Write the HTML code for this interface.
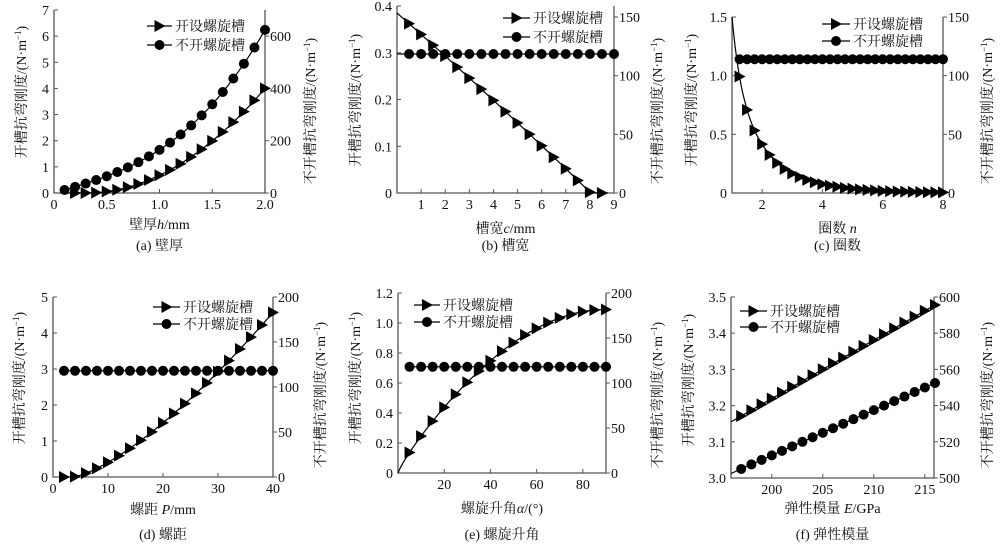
<!DOCTYPE html>
<html><head><meta charset="utf-8"><style>
html,body{margin:0;padding:0;background:#fff;width:1000px;height:547px;overflow:hidden}
svg{display:block}
text{font-family:"Liberation Serif","Noto Serif CJK SC","Noto Sans CJK SC",serif;fill:#111}
</style></head><body>
<svg id="s" width="1000" height="547" xmlns="http://www.w3.org/2000/svg"></svg>
<script>
const S=document.getElementById('s');let h='';
function rng(a,b,st){const r=[];for(let v=a;v<=b+1e-9;v+=st)r.push(+v.toFixed(6));return r;}
function panel(p){
 const X=v=>p.x0+(v-p.xa)/(p.xb-p.xa)*(p.x1-p.x0);
 const YL=v=>p.y1-(v-p.la)/(p.lb-p.la)*(p.y1-p.y0);
 const YR=v=>p.y1-(v-p.ra)/(p.rb-p.ra)*(p.y1-p.y0);
 h+=`<path d="M${p.x0} ${p.y0}V${p.y1}H${p.x1}V${p.y0}" fill="none" stroke="#555" stroke-width="1.3"/>`;
 p.lt.forEach(([v,l])=>{const y=YL(v);h+=`<line x1="${p.x0}" x2="${p.x0+4}" y1="${y}" y2="${y}" stroke="#555"/><text x="${p.x0-5}" y="${y+5}" font-size="14" text-anchor="end">${l}</text>`;});
 p.rt.forEach(([v,l])=>{const y=YR(v);h+=`<line x1="${p.x1}" x2="${p.x1+4}" y1="${y}" y2="${y}" stroke="#555"/><text x="${p.x1+5}" y="${y+5}" font-size="14">${l}</text>`;});
 p.xt.forEach(([v,l])=>{const x=X(v);h+=`<line x1="${x}" x2="${x}" y1="${p.y1}" y2="${p.y1-4}" stroke="#555"/><text x="${x}" y="${p.y1+16}" font-size="14" text-anchor="middle">${l}</text>`;});
 const tri=(x,y)=>`<path d="M${x-5} ${y-6}L${x+6} ${y}L${x-5} ${y+6}Z" fill="#000"/>`;
 const cir=(x,y)=>`<circle cx="${x}" cy="${y}" r="5" fill="#000"/>`;
 let d='';p.tl.forEach((v,i)=>{d+=(i?'L':'M')+X(v).toFixed(1)+' '+YL(p.tf(v)).toFixed(1);});
 h+=`<path d="${d}" fill="none" stroke="#000" stroke-width="1.2"/>`;
 d='';p.cl.forEach((v,i)=>{d+=(i?'L':'M')+X(v).toFixed(1)+' '+YR(p.cf(v)).toFixed(1);});
 h+=`<path d="${d}" fill="none" stroke="#000" stroke-width="1.2"/>`;
 p.cp.forEach(v=>h+=cir(X(v),YR(p.cf(v))));
 p.tp.forEach(v=>h+=tri(X(v),YL(p.tf(v))));
 const [lx1,lx2,ly1,ly2]=p.lg;const m=(lx1+lx2)/2;
 h+=`<line x1="${lx1}" x2="${lx2}" y1="${ly1}" y2="${ly1}" stroke="#000" stroke-width="1.2"/>`+tri(m,ly1)+`<text x="${lx2+3}" y="${ly1+5}" font-size="14">开设螺旋槽</text>`;
 h+=`<line x1="${lx1}" x2="${lx2}" y1="${ly2}" y2="${ly2}" stroke="#000" stroke-width="1.2"/>`+cir(m,ly2)+`<text x="${lx2+3}" y="${ly2+5}" font-size="14">不开螺旋槽</text>`;
 h+=`<text transform="translate(${p.llx},${p.lly}) rotate(-90)" font-size="14" text-anchor="middle">开槽抗弯刚度/(N·m<tspan font-size="9" dy="-5">−1</tspan><tspan dy="5">)</tspan></text>`;
 h+=`<text transform="translate(${p.rlx+10},${p.rly}) rotate(-90)" font-size="14" text-anchor="middle">不开槽抗弯刚度/(N·m<tspan font-size="9" dy="-5">−1</tspan><tspan dy="5">)</tspan></text>`;
 h+=`<text x="${(p.x0+p.x1)/2}" y="${p.xly}" font-size="14" text-anchor="middle">${p.xl}</text>`;
 h+=`<text x="${(p.x0+p.x1)/2}" y="${p.cy}" font-size="14" text-anchor="middle">${p.cap}</text>`;
}
const t=(a)=>a.map(v=>[v,String(v)]);
panel({x0:54,x1:265,y0:10,y1:193,xa:0,xb:2,la:0,lb:7,ra:0,rb:700,
 lt:t([0,1,2,3,4,5,6,7]),rt:t([0,200,400,600]),xt:[[0,'0'],[0.5,'0.5'],[1,'1.0'],[1.5,'1.5'],[2,'2.0']],
 tl:rng(0.1,2,0.05),tp:rng(0.2,2,0.1),tf:v=>1.384*Math.pow(Math.max(0,v-0.3),2),
 cl:rng(0.1,2,0.05),cp:rng(0.1,2,0.1),cf:v=>100*(0.49*v*v*v+1.16*v),
 lg:[147,172,26,45],llx:26,lly:92,rlx:305,rly:111,xl:'壁厚<tspan font-style="italic">h</tspan>/mm',xly:229,cap:'(a) 壁厚',cy:250});
panel({x0:397,x1:614,y0:6,y1:193,xa:0,xb:9,la:0,lb:0.4,ra:0,rb:159.4,
 lt:[[0,'0'],[0.1,'0.1'],[0.2,'0.2'],[0.3,'0.3'],[0.4,'0.4']],rt:t([0,50,100,150]),xt:t([1,2,3,4,5,6,7,8,9]),
 tl:rng(0,8.75,0.25),tp:rng(0.5,8.5,0.5),tf:v=>Math.max(0,0.385-0.0455*v-0.0003*v*v),
 cl:[0,9],cp:rng(0.5,9,0.5),cf:v=>118.5,
 lg:[503,530,18,37],llx:360,lly:100,rlx:652,rly:111,xl:'槽宽<tspan font-style="italic">c</tspan>/mm',xly:233,cap:'(b) 槽宽',cy:250});
panel({x0:732,x1:943,y0:17,y1:193,xa:1,xb:8,la:0,lb:1.5,ra:0,rb:150,
 lt:[[0,'0'],[0.5,'0.5'],[1,'1.0'],[1.5,'1.5']],rt:t([0,50,100,150]),xt:t([2,4,6,8]),
 tl:rng(1,8,0.05),tp:rng(1.25,8,0.25),tf:v=>1.5*Math.pow(v,-(1.85+0.15*Math.max(0,v-2))),
 cl:[1.25,8],cp:rng(1.25,8,0.25),cf:v=>114,
 lg:[822,850,24,41],llx:696,lly:100,rlx:982,rly:111,xl:'圈数 <tspan font-style="italic">n</tspan>',xly:233,cap:'(c) 圈数',cy:250});
panel({x0:53,x1:273,y0:297,y1:477,xa:0,xb:40,la:0,lb:5,ra:0,rb:200,
 lt:t([0,1,2,3,4,5]),rt:t([0,50,100,150,200]),xt:t([0,10,20,30,40]),
 tl:rng(2,40,0.5),tp:rng(2,40,2),tf:v=>0.0297*Math.pow(Math.max(0,v-3.5),1.4),
 cl:[2,40],cp:rng(2,40,2),cf:v=>118,
 lg:[153,180,307,324],llx:24,lly:378,rlx:315,rly:395,xl:'螺距 <tspan font-style="italic">P</tspan>/mm',xly:514,cap:'(d) 螺距',cy:539});
panel({x0:398,x1:606,y0:293,y1:473,xa:0,xb:90,la:0,lb:1.2,ra:0,rb:200,
 lt:[[0,'0'],[0.2,'0.2'],[0.4,'0.4'],[0.6,'0.6'],[0.8,'0.8'],[1,'1.0'],[1.2,'1.2']],rt:t([0,50,100,150,200]),xt:t([20,40,60,80]),
 tl:rng(0,90,1),tp:rng(5,90,5),tf:v=>1.09*Math.pow(Math.sin(v*Math.PI/180),0.85),
 cl:[5,90],cp:rng(5,90,5),cf:v=>118,
 lg:[414,440,305,322],llx:360,lly:378,rlx:652,rly:395,xl:'螺旋升角<tspan font-style="italic">α</tspan>/(°)',xly:513,cap:'(e) 螺旋升角',cy:539});
panel({x0:731,x1:934,y0:297,y1:478,xa:196,xb:215.9,la:3,lb:3.5,ra:500,rb:600,
 lt:[[3,'3.0'],[3.1,'3.1'],[3.2,'3.2'],[3.3,'3.3'],[3.4,'3.4'],[3.5,'3.5']],rt:t([500,520,540,560,580,600]),xt:t([200,205,210,215]),
 tl:[196,216],tp:rng(197,216,1),tf:v=>3.155+0.01615*(v-196),
 cl:[196,216],cp:rng(197,216,1),cf:v=>502.5+2.5*(v-196),
 lg:[740,767,311,327],llx:693,lly:380,rlx:982,rly:395,xl:'弹性模量 <tspan font-style="italic">E</tspan>/GPa',xly:513,cap:'(f) 弹性模量',cy:539});
S.innerHTML=h;
</script>
</body></html>
